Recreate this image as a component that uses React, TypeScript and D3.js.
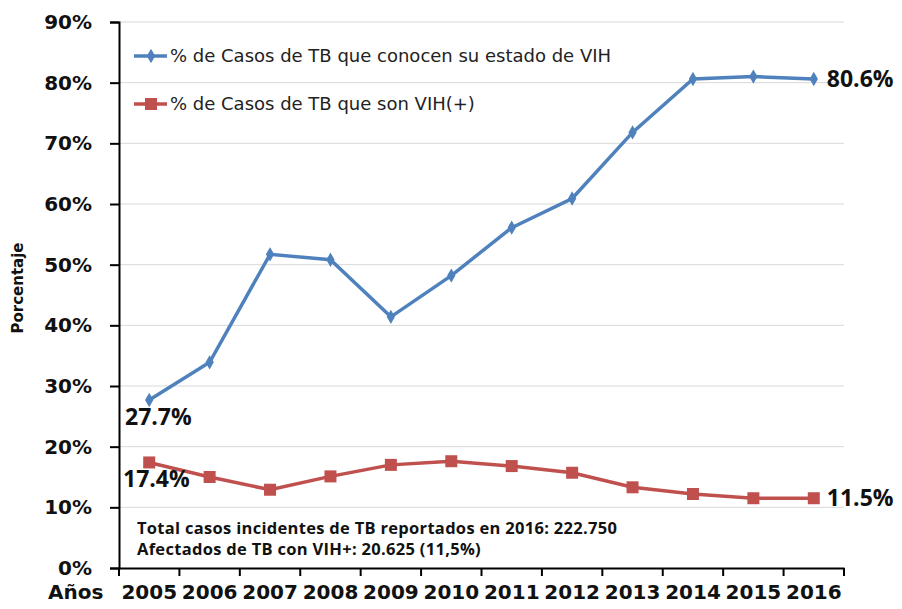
import React, { useRef, useEffect } from 'react';
import * as d3 from 'd3';

const years = ['2005', '2006', '2007', '2008', '2009', '2010', '2011', '2012', '2013', '2014', '2015', '2016'];
const conocen = [27.7, 33.9, 51.7, 50.8, 41.4, 48.2, 56.1, 60.9, 71.8, 80.6, 81.0, 80.6];
const vihPos = [17.4, 15.0, 12.9, 15.1, 17.0, 17.6, 16.8, 15.7, 13.3, 12.2, 11.5, 11.5];
const yTicks = [0, 10, 20, 30, 40, 50, 60, 70, 80, 90];
const seriesNames = ['% de Casos de TB que conocen su estado de VIH', '% de Casos de TB que son VIH(+)'];
const notes = ['Total casos incidentes de TB reportados en 2016: 222.750', 'Afectados de TB con VIH+: 20.625 (11,5%)'];

const BLUE = '#4f81bd';
const RED = '#c0504d';

const App = () => {
  const svgRef = useRef<SVGSVGElement>(null);

  useEffect(() => {
    const width = 902;
    const height = 609;
    const margin = { top: 22, right: 58, bottom: 41, left: 119 };

    const x = d3.scaleBand()
      .domain(years)
      .range([margin.left, width - margin.right]);

    const y = d3.scaleLinear()
      .domain([0, 90])
      .range([height - margin.bottom, margin.top]);

    const svg = d3.select(svgRef.current)
      .attr('width', width)
      .attr('height', height);

    svg.selectAll('*').remove();

    const font = "'DejaVu Sans', Verdana, sans-serif";
    const bold = "'Open Sans', 'DejaVu Sans', sans-serif";

    // grid lines
    svg.append('g')
      .selectAll('line')
      .data(yTicks.filter(d => d > 0))
      .enter()
      .append('line')
      .attr('x1', margin.left)
      .attr('x2', width - margin.right)
      .attr('y1', d => y(d))
      .attr('y2', d => y(d))
      .attr('stroke', '#d9d9d9')
      .attr('stroke-width', 1);

    // y axis
    const yAxis = svg.append('g')
      .attr('transform', `translate(${margin.left},0)`)
      .call(d3.axisLeft(y).tickValues(yTicks).tickSize(9).tickFormat(d => `${d}%`));
    yAxis.select('.domain').attr('stroke', '#000').attr('stroke-width', 2);
    yAxis.selectAll('.tick line').attr('stroke', '#000').attr('stroke-width', 2);
    yAxis.selectAll('.tick text')
      .attr('x', -27)
      .attr('fill', '#111')
      .style('font-family', font)
      .style('font-weight', 'bold')
      .style('font-size', '20px');

    // x axis
    const xAxis = svg.append('g')
      .attr('transform', `translate(0,${height - margin.bottom})`)
      .call(d3.axisBottom(x).tickSize(0).tickSizeOuter(0));
    xAxis.select('.domain').attr('stroke', '#000').attr('stroke-width', 2);
    xAxis.selectAll('.tick text')
      .attr('y', 31)
      .attr('dy', null)
      .attr('fill', '#111')
      .style('font-family', font)
      .style('font-weight', 'bold')
      .style('font-size', '20px');
    // ticks at band boundaries
    svg.append('g')
      .selectAll('line')
      .data(years.map(d => x(d)!).concat([x.range()[1]]))
      .enter()
      .append('line')
      .attr('x1', d => d)
      .attr('x2', d => d)
      .attr('y1', height - margin.bottom)
      .attr('y2', height - margin.bottom + 8)
      .attr('stroke', '#000')
      .attr('stroke-width', 2);

    svg.append('text')
      .attr('x', 48)
      .attr('y', 599)
      .attr('fill', '#111')
      .style('font-family', font)
      .style('font-weight', 'bold')
      .style('font-size', '20px')
      .text('Años');

    svg.append('text')
      .attr('transform', `translate(23,288) rotate(-90)`)
      .attr('text-anchor', 'middle')
      .attr('fill', '#111')
      .style('font-family', font)
      .style('font-weight', 'bold')
      .style('font-size', '15px')
      .text('Porcentaje');

    const cx = (d: string) => x(d)! + x.bandwidth() / 2;

    const line = d3.line<number>()
      .x((_, i) => cx(years[i]))
      .y(d => y(d));

    // series lines
    svg.append('path')
      .datum(conocen)
      .attr('fill', 'none')
      .attr('stroke', BLUE)
      .attr('stroke-width', 3.5)
      .attr('d', line);

    svg.append('path')
      .datum(vihPos)
      .attr('fill', 'none')
      .attr('stroke', RED)
      .attr('stroke-width', 3.5)
      .attr('d', line);

    const diamond = d3.symbol().type(d3.symbolDiamond).size(60);
    svg.append('g')
      .selectAll('path')
      .data(conocen)
      .enter()
      .append('path')
      .attr('d', diamond)
      .attr('transform', (d, i) => `translate(${cx(years[i])},${y(d)})`)
      .attr('fill', BLUE);

    svg.append('g')
      .selectAll('rect')
      .data(vihPos)
      .enter()
      .append('rect')
      .attr('x', (_, i) => cx(years[i]) - 6)
      .attr('y', d => y(d) - 6)
      .attr('width', 12)
      .attr('height', 12)
      .attr('fill', RED);

    // value labels
    const label = (t: string, lx: number, ly: number) =>
      svg.append('text')
        .attr('x', lx)
        .attr('y', ly)
        .attr('fill', '#111')
        .style('font-family', bold)
        .style('font-weight', 'bold')
        .style('font-size', '23px')
        .text(t);

    const last = years.length - 1;
    label(`${conocen[0]}%`, 125, y(conocen[0]) + 25);
    label(`${vihPos[0]}%`, 123, y(vihPos[0]) + 25);
    label(`${conocen[last]}%`, cx(years[last]) + 13, y(conocen[last]) + 8);
    label(`${vihPos[last]}%`, cx(years[last]) + 13, y(vihPos[last]) + 8);

    // legend
    const legend = svg.append('g').attr('transform', `translate(134,56)`);
    [BLUE, RED].forEach((c, i) => {
      const g = legend.append('g').attr('transform', `translate(0,${i * 48})`);
      g.append('line')
        .attr('x1', 0).attr('x2', 33)
        .attr('stroke', c).attr('stroke-width', 3.5);
      if (i === 0) {
        g.append('path').attr('d', diamond).attr('transform', 'translate(17,0)').attr('fill', c);
      } else {
        g.append('rect').attr('x', 11).attr('y', -6).attr('width', 12).attr('height', 12).attr('fill', c);
      }
      g.append('text')
        .attr('x', 36)
        .attr('dy', '0.35em')
        .attr('fill', '#222')
        .style('font-family', font)
        .style('font-size', '18px')
        .text(seriesNames[i]);
    });

    // notes
    notes.forEach((t, i) => {
      svg.append('text')
        .attr('x', 137)
        .attr('y', 534 + i * 21)
        .attr('fill', '#111')
        .style('font-family', bold)
        .style('font-weight', 'bold')
        .style('font-size', '16.5px')
        .style('letter-spacing', '0.3px')
        .text(t);
    });
  }, []);

  return (
    <div style={{ margin: '-8px' }}>
      <svg ref={svgRef} style={{ display: 'block' }}></svg>
    </div>
  );
};

export default App;
